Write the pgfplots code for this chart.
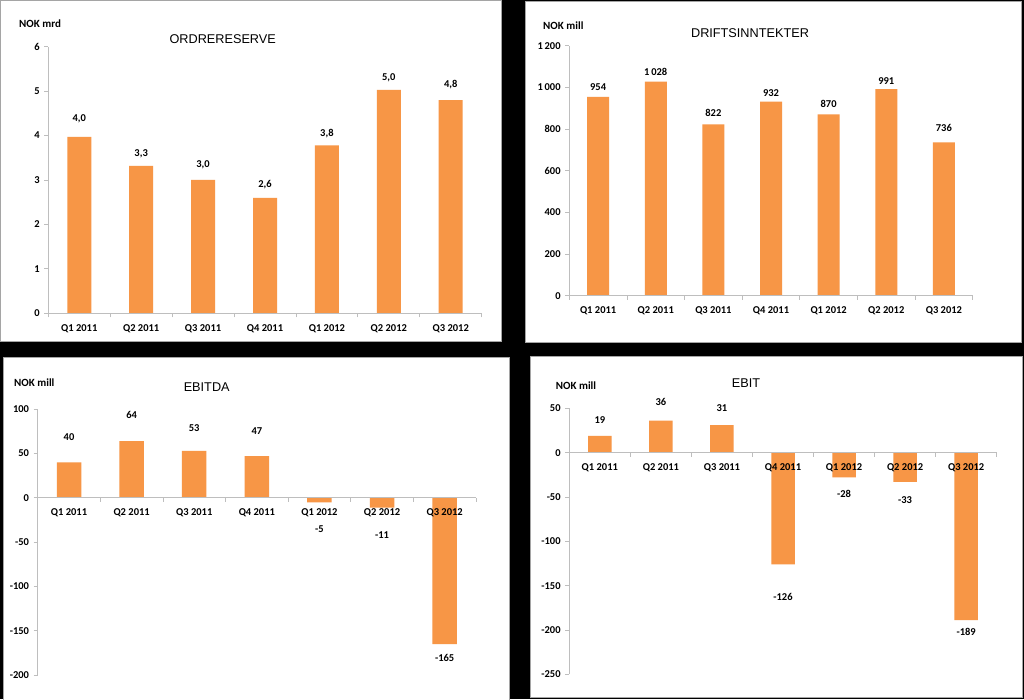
\documentclass[border=0pt]{standalone}
\usepackage{pgfplots}
\pgfplotsset{compat=1.18}
\usepackage{fontspec}
\setmainfont{Carlito}
\newfontfamily\arialf{Liberation Sans}
\definecolor{barorange}{RGB}{247,150,70}
\definecolor{axgray}{RGB}{190,190,190}
\definecolor{panelborder}{RGB}{165,165,165}

\pgfplotsset{
  panel/.style={
    scale only axis,
    anchor=south west,
    axis on top,
    xmin=-0.5, xmax=6.5,
    axis y line*=left,
    axis x line*=middle,
    axis line style={axgray, line width=0.8pt},
    tick align=outside,
    major tick length=4pt,
    minor tick length=4pt,
    every tick/.style={axgray, line width=0.8pt},
    xtick={0,...,6},
    xticklabels={Q1 2011,Q2 2011,Q3 2011,Q4 2011,Q1 2012,Q2 2012,Q3 2012},
    major x tick style={draw=none},
    minor xtick={-0.5,0.5,...,6.5},
    tick label style={font=\fontsize{10.5}{12}\selectfont\bfseries, text=black},
    xticklabel style={anchor=north, inner sep=0pt, yshift=-7pt},
    yticklabel style={anchor=east, inner sep=0pt, xshift=-4.5pt},
    clip=false,
  },
  bars/.style={ybar, fill=barorange, draw=none},
  vlabels/.style={draw=none, mark=none, nodes near coords, point meta=explicit symbolic,
    every node near coord/.append style={anchor=center, inner sep=0pt,
      font=\fontsize{10.5}{12}\selectfont\bfseries, text=black}},
}

\begin{document}
\begin{tikzpicture}[x=1pt,y=1pt]
\useasboundingbox (0,0) rectangle (1024,699);
\fill[black] (0,0) rectangle (1024,699);
% panels
\draw[panelborder, fill=white, line width=0.8pt] (0.4,358) rectangle (501,698.6);
\draw[panelborder, fill=white, line width=0.8pt] (525,357) rectangle (1021,698);
\draw[panelborder, fill=white, line width=0.8pt] (3,-3) rectangle (509,342);
\draw[panelborder, fill=white, line width=0.8pt] (530,2) rectangle (1022,343);

% ---------- ORDRERESERVE ----------
\begin{axis}[panel, at={(48.3pt,385.7pt)}, width=433.4pt, height=266.6pt,
  ymin=0, ymax=6, ytick={0,1,2,3,4,5,6}, yticklabels={0,1,2,3,4,5,6}]
\addplot[bars, bar width=24pt] table[x=x,y=y]{
x y
0 3.97
1 3.32
2 3.00
3 2.60
4 3.78
5 5.03
6 4.80
};
\addplot[vlabels] table[x=x,y=ly,meta=lab]{
x ly lab
0 4.37 4,0
1 3.585 3,3
2 3.34 3,0
3 2.90 2,6
4 4.04 3,8
5 5.29 5,0
6 5.15 4,8
};
\end{axis}
\node[font=\arialf\fontsize{12.7}{14}\selectfont] at (222.7,659.7) {ORDRERESERVE};
\node[anchor=west, inner sep=0pt, font=\fontsize{11}{13}\selectfont\bfseries] at (19,675) {NOK mrd};

% ---------- DRIFTSINNTEKTER ----------
\begin{axis}[panel, at={(569.3pt,403.3pt)}, width=403.4pt, height=250pt,
  ymin=0, ymax=1200, ytick={0,200,400,600,800,1000,1200},
  yticklabels={0,200,400,600,800,1\,000,1\,200}]
\addplot[bars, bar width=22pt] table[x=x,y=y]{
x y
0 954
1 1028
2 822
3 932
4 870
5 991
6 736
};
\addplot[vlabels] table[x=x,y=ly,meta=lab]{
x ly lab
0 1003 954
1 1074 1\,028
2 877 822
3 973 932
4 919 870
5 1032 991
6 805 736
};
\end{axis}
\node[font=\arialf\fontsize{12.7}{14}\selectfont] at (750,666) {DRIFTSINNTEKTER};
\node[anchor=west, inner sep=0pt, font=\fontsize{11}{13}\selectfont\bfseries] at (543,673) {NOK mill};

% ---------- EBITDA ----------
\begin{axis}[panel, at={(37.7pt,24pt)}, width=438.3pt, height=265.7pt,
  ymin=-200, ymax=100, ytick={-200,-150,-100,-50,0,50,100},
  yticklabels={-200,-150,-100,-50,0,50,100}]
\addplot[bars, bar width=24.5pt] table[x=x,y=y]{
x y
0 40
1 64
2 53
3 47
4 -5
5 -11
6 -165
};
\addplot[vlabels] table[x=x,y=ly,meta=lab]{
x ly lab
0 68.4 40
1 94.1 64
2 78.3 53
3 75.7 47
4 -35.0 -5
5 -41.8 -11
6 -180.7 -165
};
\end{axis}
\node[font=\arialf\fontsize{12.7}{14}\selectfont] at (206.7,312.3) {EBITDA};
\node[anchor=west, inner sep=0pt, font=\fontsize{11}{13}\selectfont\bfseries] at (14,316.3) {NOK mill};

% ---------- EBIT ----------
\begin{axis}[panel, at={(569.3pt,24.7pt)}, width=427.4pt, height=266pt,
  ymin=-250, ymax=50, ytick={-250,-200,-150,-100,-50,0,50},
  yticklabels={-250,-200,-150,-100,-50,0,50}]
\addplot[bars, bar width=23.5pt] table[x=x,y=y]{
x y
0 19
1 36
2 31
3 -126
4 -28
5 -33
6 -189
};
\addplot[vlabels] table[x=x,y=ly,meta=lab]{
x ly lab
0 36.9 19
1 57.5 36
2 50.8 31
3 -162.4 -126
4 -46.2 -28
5 -53.3 -33
6 -202.2 -189
};
\end{axis}
\node[font=\arialf\fontsize{12.7}{14}\selectfont] at (746,316.3) {EBIT};
\node[anchor=west, inner sep=0pt, font=\fontsize{11}{13}\selectfont\bfseries] at (555.7,313) {NOK mill};
\end{tikzpicture}
\end{document}
